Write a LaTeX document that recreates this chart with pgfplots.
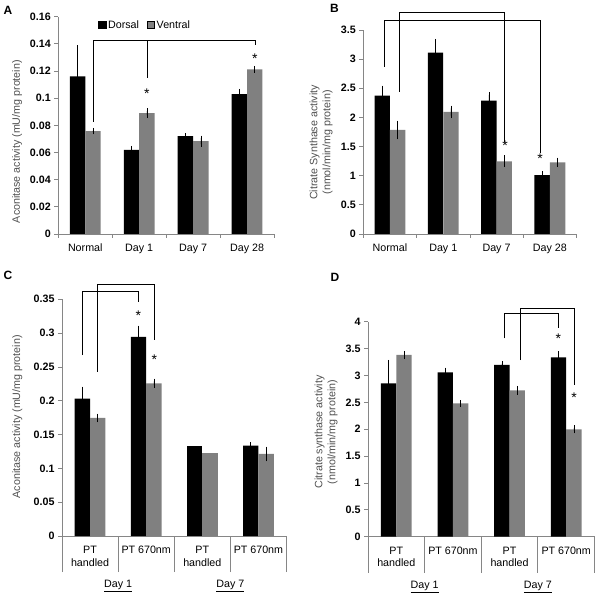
\documentclass[border=0pt]{standalone}
\usepackage{pgfplots}
\pgfplotsset{compat=1.18}
\usepackage{fontspec}
\setmainfont{Liberation Sans}
\definecolor{axgray}{RGB}{134,134,134}
\definecolor{bargray}{RGB}{128,128,128}
\definecolor{labgray}{RGB}{80,80,80}
\newcommand{\tfont}{\fontsize{10.7}{12.8}\selectfont}
\newcommand{\sfont}{\fontsize{14}{16}\selectfont}
\tikzset{brk/.style={black, line width=0.9pt}}
\pgfplotsset{
  panel/.style={
    scale only axis, anchor=south west, clip=false,
    axis lines=left, axis line style={-, draw=axgray, line width=0.8pt},
    xmin=-0.5, xmax=3.5, ymin=0,
    tick align=outside,
    major tick length=4pt, minor tick length=4pt,
    xtick={0,1,2,3},
    minor xtick={-0.5,0.5,1.5,2.5,3.5},
    major x tick style={draw=none},
    minor x tick style={draw=axgray, line width=0.8pt},
    ytick style={draw=axgray, line width=0.8pt},
    scaled y ticks=false,
    yticklabel style={font=\tfont\bfseries, text=black},
    xticklabel style={font=\tfont, text=black, yshift=-2.5pt},
    ylabel style={font=\tfont, text=labgray, align=center, anchor=center},
  },
  errs/.style={error bars/.cd, y dir=both, y explicit, error mark=-,
    error bar style={black, line width=0.6pt},
    error mark options={black, line width=0.6pt, mark size=2.6pt}},
  dorsn/.style={ybar, bar width=15.4pt, bar shift=0pt, fill=black, draw=none, forget plot},
  ventn/.style={ybar, bar width=15.4pt, bar shift=0pt, fill=bargray, draw=none, forget plot},
  dors/.style={dorsn, errs},
  vent/.style={ventn, errs},
}
\begin{document}
\begin{tikzpicture}
\path[use as bounding box] (0pt,0pt) rectangle (600pt,595pt);
% panel letters
\node[font=\fontsize{12}{14}\selectfont\bfseries] at (8pt,585pt) {A};
\node[font=\fontsize{12}{14}\selectfont\bfseries] at (334.5pt,587pt) {B};
\node[font=\fontsize{12}{14}\selectfont\bfseries] at (8pt,320pt) {C};
\node[font=\fontsize{12}{14}\selectfont\bfseries] at (335pt,318pt) {D};

% ---------- A ----------
\begin{axis}[panel, at={(58.3pt,361pt)}, width=215.7pt, height=217.3pt,
  ymax=0.16,
  ytick={0,0.02,0.04,0.06,0.08,0.1,0.12,0.14,0.16},
  yticklabels={0,0.02,0.04,0.06,0.08,0.1,0.12,0.14,0.16},
  xticklabels={Normal,Day 1,Day 7,Day 28},
  ylabel={Aconitase activity (mU/mg protein)},
  ylabel style={at={(axis description cs:-0.191,0.425)}},
  legend style={at={(rel axis cs:0.185,0.962)}, anchor=west, draw=none, fill=none,
    legend columns=2, font=\tfont, inner sep=0pt,
    /tikz/every even column/.append style={column sep=6pt}},
  legend image code/.code={\fill[#1] (0pt,-3.6pt) rectangle (7.3pt,3.6pt);},
]
\addplot[dors] coordinates {(-0.143,0.116) +- (0,0.021) (0.857,0.062) +- (0,0.001) (1.857,0.072) +- (0,0.0004) (2.857,0.103) +- (0,0.002)};
\addplot[vent] coordinates {(0.143,0.0757) +- (0,0.0005) (1.143,0.089) +- (0,0.0015) (2.143,0.0683) +- (0,0.0022) (3.143,0.1213) +- (0,0.0006)};
\addlegendimage{fill=black}
\addlegendentry{Dorsal}
\addlegendimage{fill=bargray}
\addlegendentry{Ventral}
\draw[brk] (axis cs:0.16,0.0825) |- (axis cs:3.15,0.1428) -- (axis cs:3.15,0.139);
\draw[brk] (axis cs:1.15,0.1428) -- (axis cs:1.15,0.1149);
\node[font=\sfont] at (axis cs:1.143,0.1035) {*};
\node[font=\sfont] at (axis cs:3.143,0.1292) {*};
\end{axis}

% ---------- B ----------
\begin{axis}[panel, at={(363.3pt,361pt)}, width=213.2pt, height=204pt,
  ymax=3.5,
  ytick={0,0.5,1,1.5,2,2.5,3,3.5},
  yticklabels={0,0.5,1,1.5,2,2.5,3,3.5},
  xticklabels={Normal,Day 1,Day 7,Day 28},
  ylabel={Citrate Synthase activity\\(nmol/min/mg protein)},
  ylabel style={at={(axis description cs:-0.198,0.449)}},
]
\addplot[dors] coordinates {(-0.1445,2.374) +- (0,0.126) (0.8555,3.112) +- (0,0.19) (1.8555,2.288) +- (0,0.10) (2.8555,1.01) +- (0,0.02)};
\addplot[vent] coordinates {(0.1445,1.785) +- (0,0.115) (1.1445,2.094) +- (0,0.063) (2.1445,1.247) +- (0,0.057) (3.1445,1.23) +- (0,0.035)};
\draw[brk] (axis cs:-0.112,2.87) |- (axis cs:2.815,3.66) -- (axis cs:2.815,1.39);
\draw[brk] (axis cs:0.17,2.44) |- (axis cs:2.153,3.80) -- (axis cs:2.153,1.58);
\node[font=\sfont] at (axis cs:2.16,1.51) {*};
\node[font=\sfont] at (axis cs:2.815,1.30) {*};
\end{axis}

% ---------- C ----------
\begin{axis}[panel, at={(62pt,59pt)}, width=224.5pt, height=236.7pt,
  ymax=0.35, minor tick length=36pt,
  ytick={0,0.05,0.1,0.15,0.2,0.25,0.3,0.35},
  yticklabels={0,0.05,0.1,0.15,0.2,0.25,0.3,0.35},
  xticklabels={{PT\\handled},{PT 670nm},{PT\\handled},{PT 670nm}},
  xticklabel style={align=center},
  ylabel={Aconitase activity (mU/mg protein)},
  ylabel style={at={(axis description cs:-0.199,0.504)}},
]
\addplot[dors] coordinates {(-0.137,0.2031) +- (0,0.014) (0.863,0.2944) +- (0,0.013) (2.863,0.1336) +- (0,0.001)};
\addplot[dorsn] coordinates {(1.863,0.1326)};
\addplot[vent] coordinates {(0.137,0.1745) +- (0,0.0025) (1.137,0.2258) +- (0,0.003) (3.137,0.1213) +- (0,0.007)};
\addplot[ventn] coordinates {(2.137,0.1223)};
\draw[brk] (axis cs:-0.131,0.2676) |- (axis cs:0.86,0.3612) -- (axis cs:0.86,0.3465);
\draw[brk] (axis cs:0.136,0.243) |- (axis cs:1.145,0.3726) -- (axis cs:1.145,0.2898);
\node[font=\sfont] at (axis cs:0.86,0.326) {*};
\node[font=\sfont] at (axis cs:1.145,0.260) {*};
\node[font=\tfont, anchor=base] at (axis cs:0.5,0) [yshift=-51.5pt] {\underline{Day 1}};
\node[font=\tfont, anchor=base] at (axis cs:2.5,0) [yshift=-51.5pt] {\underline{Day 7}};
\end{axis}

% ---------- D ----------
\begin{axis}[panel, at={(368pt,58.3pt)}, width=226.5pt, height=215pt,
  ymax=4, minor tick length=36pt,
  ytick={0,0.5,1,1.5,2,2.5,3,3.5,4},
  yticklabels={0,0.5,1,1.5,2,2.5,3,3.5,4},
  xticklabels={{PT\\handled},{PT 670nm},{PT\\handled},{PT 670nm}},
  xticklabel style={align=center},
  ylabel={Citrate synthase activity\\(nmol/min/mg protein)},
  ylabel style={at={(axis description cs:-0.185,0.487)}},
]
\addplot[dors] coordinates {(-0.136,2.853) +- (0,0.39) (0.864,3.058) +- (0,0.04) (1.864,3.195) +- (0,0.025) (2.864,3.337) +- (0,0.062)};
\addplot[vent] coordinates {(0.136,3.381) +- (0,0.03) (1.136,2.481) +- (0,0.012) (2.136,2.723) +- (0,0.037) (3.136,1.998) +- (0,0.025)};
\draw[brk] (axis cs:1.908,3.691) |- (axis cs:2.862,4.156) -- (axis cs:2.862,3.877);
\draw[brk] (axis cs:2.185,3.287) |- (axis cs:3.14,4.249) -- (axis cs:3.14,2.822);
\node[font=\sfont] at (axis cs:2.862,3.68) {*};
\node[font=\sfont] at (axis cs:3.14,2.58) {*};
\node[font=\tfont, anchor=base] at (axis cs:0.5,0) [yshift=-51.5pt] {\underline{Day 1}};
\node[font=\tfont, anchor=base] at (axis cs:2.5,0) [yshift=-51.5pt] {\underline{Day 7}};
\end{axis}
\end{tikzpicture}
\end{document}
